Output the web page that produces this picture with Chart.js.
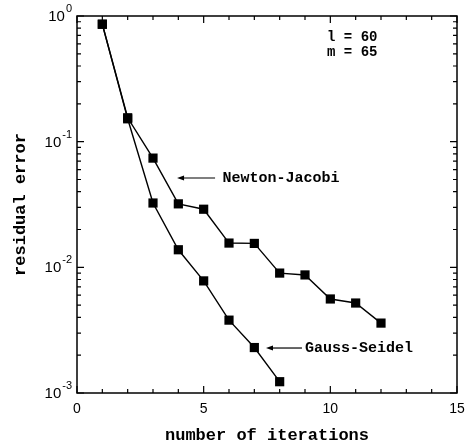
<!DOCTYPE html>
<html>
<head>
<meta charset="utf-8">
<script src="https://cdn.jsdelivr.net/npm/chart.js@4/dist/chart.umd.min.js"></script>
<style>
  html, body { margin: 0; padding: 0; background: #fff; }
  #wrap { width: 466px; height: 446px; }
</style>
</head>
<body>
<div id="wrap"><canvas id="c" width="466" height="446"></canvas></div>
<script>
// ---- data ----
const iterationsNJ = [1, 2, 3, 4, 5, 6, 7, 8, 9, 10, 11, 12];
const residualNJ = [0.86, 0.155, 0.074, 0.032, 0.029, 0.0156, 0.0155, 0.0090, 0.0087, 0.0056, 0.0052, 0.0036];
const iterationsGS = [1, 2, 3, 4, 5, 6, 7, 8];
const residualGS = [0.86, 0.152, 0.0325, 0.0138, 0.0078, 0.0038, 0.0023, 0.00123];
const xTickValues = [0, 5, 10, 15];
const xTickLabels = ['0', '5', '10', '15'];
const yTickValues = [1, 0.1, 0.01, 0.001];
const yTickBase = ['10', '10', '10', '10'];
const yTickExp = ['0', '-1', '-2', '-3'];
const xAxisTitle = 'number of iterations';
const yAxisTitle = 'residual error';
const seriesNames = ['Newton-Jacobi', 'Gauss-Seidel'];
const paramLines = ['l = 60', 'm = 65'];

// annotation placement (in data coordinates)
const annotations = [
  { text: seriesNames[0], arrowTip: 3.95, arrowTail: 5.45, textX: 5.74, y: 0.0514 },
  { text: seriesNames[1], arrowTip: 7.46, arrowTail: 8.88, textX: 9.0, y: 0.00228 }
];
const paramText = [
  { text: paramLines[0], x: 9.87, y: 0.68 },
  { text: paramLines[1], x: 9.87, y: 0.517 }
];

const toPts = (xs, ys) => xs.map((x, i) => ({ x: x, y: ys[i] }));

const decorPlugin = {
  id: 'decor',
  afterDraw(chart) {
    const ctx = chart.ctx;
    const xs = chart.scales.x, ys = chart.scales.y;
    const a = chart.chartArea;
    ctx.save();
    ctx.strokeStyle = '#000';
    ctx.fillStyle = '#000';
    // frame
    ctx.lineWidth = 1.5;
    ctx.strokeRect(a.left, a.top, a.right - a.left, a.bottom - a.top);
    // x ticks (inward, top and bottom)
    ctx.lineWidth = 1.2;
    for (let v = xs.min; v <= xs.max; v += 1) {
      const px = xs.getPixelForValue(v);
      const len = (v % 5 === 0) ? 7 : 4;
      ctx.beginPath();
      ctx.moveTo(px, a.bottom); ctx.lineTo(px, a.bottom - len);
      ctx.moveTo(px, a.top); ctx.lineTo(px, a.top + len);
      ctx.stroke();
    }
    // y ticks (inward, left and right)
    yTickValues.forEach(d => {
      const py = ys.getPixelForValue(d);
      ctx.beginPath();
      ctx.moveTo(a.left, py); ctx.lineTo(a.left + 7, py);
      ctx.moveTo(a.right, py); ctx.lineTo(a.right - 7, py);
      ctx.stroke();
      if (d < 1) {
        for (let m = 2; m <= 9; m++) {
          const pm = ys.getPixelForValue(d * m);
          ctx.beginPath();
          ctx.moveTo(a.left, pm); ctx.lineTo(a.left + 4, pm);
          ctx.moveTo(a.right, pm); ctx.lineTo(a.right - 4, pm);
          ctx.stroke();
        }
      }
    });
    // y tick labels with superscript
    const rightEdge = a.left - 5;
    yTickValues.forEach((v, i) => {
      const py = ys.getPixelForValue(v);
      ctx.font = '11px "Liberation Sans", Arial, sans-serif';
      ctx.textAlign = 'right';
      ctx.textBaseline = 'middle';
      const ew = ctx.measureText(yTickExp[i]).width;
      ctx.fillText(yTickExp[i], rightEdge, py - 7);
      ctx.font = '15px "Liberation Sans", Arial, sans-serif';
      ctx.fillText(yTickBase[i], rightEdge - ew - 1, py + 1);
    });
    // parameter text
    ctx.font = 'bold 14px "Liberation Mono", "Courier New", monospace';
    ctx.textAlign = 'left';
    ctx.textBaseline = 'middle';
    paramText.forEach(p => {
      ctx.fillText(p.text, xs.getPixelForValue(p.x), ys.getPixelForValue(p.y));
    });
    // series annotations with arrows
    annotations.forEach(an => {
      const py = ys.getPixelForValue(an.y);
      const tip = xs.getPixelForValue(an.arrowTip);
      const tail = xs.getPixelForValue(an.arrowTail);
      ctx.lineWidth = 1.2;
      ctx.beginPath();
      ctx.moveTo(tip + 5, py); ctx.lineTo(tail, py);
      ctx.stroke();
      ctx.beginPath();
      ctx.moveTo(tip, py); ctx.lineTo(tip + 7, py - 2.5); ctx.lineTo(tip + 7, py + 2.5);
      ctx.closePath(); ctx.fill();
      ctx.font = 'bold 15px "Liberation Mono", "Courier New", monospace';
      ctx.fillText(an.text, xs.getPixelForValue(an.textX), py);
    });
    ctx.restore();
  }
};

const titleFont = { family: '"Liberation Mono", "Courier New", monospace', size: 17, weight: 'bold' };

new Chart(document.getElementById('c'), {
  type: 'line',
  data: {
    datasets: [
      { label: seriesNames[0], data: toPts(iterationsNJ, residualNJ) },
      { label: seriesNames[1], data: toPts(iterationsGS, residualGS) }
    ].map(ds => Object.assign(ds, {
      borderColor: '#000', borderWidth: 1.4, tension: 0, fill: false,
      pointStyle: 'rect', pointRadius: 6.5, pointHoverRadius: 6.5,
      pointBackgroundColor: '#000', pointBorderColor: '#000', pointBorderWidth: 0
    }))
  },
  options: {
    responsive: false,
    animation: false,
    events: [],
    layout: { padding: { left: 0, right: 9, top: 16, bottom: 0 } },
    plugins: { legend: { display: false }, tooltip: { enabled: false } },
    scales: {
      x: {
        type: 'linear', min: 0, max: 15,
        grid: { display: false, drawTicks: false },
        border: { display: false },
        afterBuildTicks: s => { s.ticks = xTickValues.map(v => ({ value: v })); },
        afterFit: s => { s.height = 53; s.paddingLeft = 0; s.paddingRight = 0; },
        ticks: {
          callback: (v) => xTickLabels[xTickValues.indexOf(v)],
          color: '#000', padding: 8, maxRotation: 0, autoSkip: false,
          font: { family: '"Liberation Sans", Arial, sans-serif', size: 14 }
        },
        title: { display: true, text: xAxisTitle, color: '#000', font: titleFont, padding: { top: 0, bottom: 0 } }
      },
      y: {
        type: 'logarithmic', min: 0.001, max: 1,
        grid: { display: false, drawTicks: false },
        border: { display: false },
        afterBuildTicks: s => { s.ticks = yTickValues.map(v => ({ value: v })); },
        afterFit: s => { s.width = 77; s.paddingTop = 0; s.paddingBottom = 0; },
        ticks: { display: false },
        title: { display: true, text: yAxisTitle, color: '#000', font: titleFont, padding: { top: 11, bottom: 0 } }
      }
    }
  },
  plugins: [decorPlugin]
});
</script>
</body>
</html>
